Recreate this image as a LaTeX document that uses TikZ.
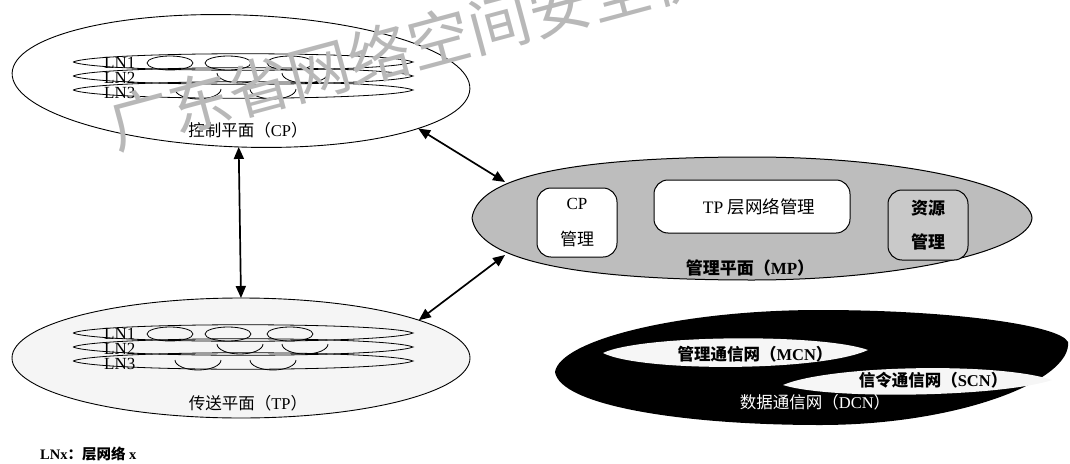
\documentclass[tikz,border=0pt]{standalone}
\usepackage{fontspec}
\setmainfont{Liberation Serif}
\newfontfamily\cjk{Noto Sans CJK SC}
\usetikzlibrary{shapes.geometric,arrows.meta}
\newcommand{\zh}[1]{{\cjk #1}}
\begin{document}
\begin{tikzpicture}[x=1pt,y=-1pt,
  plane/.style={ellipse, draw, line width=0.9pt, inner sep=0pt, outer sep=0pt},
  lnlayer/.style={line width=0.8pt},
  mbox/.style={draw, line width=1pt, rounded corners=14pt, inner sep=0pt, align=center},
  dbl/.style={{Triangle[length=12pt,width=10pt]}-{Triangle[length=12pt,width=10pt]}, line width=1.7pt},
  lab/.style={font=\fontsize{16.5}{18}\selectfont, inner sep=0pt},
  blab/.style={font=\bfseries\fontsize{16.5}{18}\selectfont, inner sep=0pt},
  lnlab/.style={font=\fontsize{17}{17}\selectfont, inner sep=0pt, anchor=base west},
  lens/.style={fill=gray!7},
]
\useasboundingbox (0,0) rectangle (1070,463);

% control and transport planes
\node[plane, fill=white, minimum width=458pt, minimum height=132pt, rotate=-2] (CP) at (241,81) {};
\node[plane, fill=gray!8, minimum width=458pt, minimum height=120pt] (TP) at (241,358) {};

% layer networks
\foreach \off/\pf in {0/cp,271/tp}{
  \begin{scope}[shift={(0,\off)}]
    \foreach \yy in {62,76,90}{
      \draw[lnlayer] (73,\yy) .. controls (100,\yy-11) and (386,\yy-11) .. (413,\yy)
                             .. controls (386,\yy+11) and (100,\yy+11) .. (73,\yy);
    }
    \foreach \cx in {170,228,290}{
      \draw[lnlayer] (\cx,63) ellipse [x radius=23, y radius=7];
    }
    \foreach \cx in {240,305}{
      \draw[lnlayer] (\cx+23,73) arc [start angle=0, end angle=180, x radius=23, y radius=10];
    }
    \foreach \cx in {198,273}{
      \draw[lnlayer] (\cx+23,89) arc [start angle=0, end angle=180, x radius=23, y radius=10];
    }
    \node[lnlab] (\pf ln1) at (104,68) {LN1};
    \node[lnlab] (\pf ln2) at (104,83) {LN2};
    \node[lnlab] (\pf ln3) at (104,98) {LN3};
  \end{scope}
}
\node[lab] (cplab) at (248,130) {\zh{控制平面（}CP\zh{）}};
\node[lab] (tplab) at (248,403) {\zh{传送平面（}TP\zh{）}};

% management plane
\path[fill=gray!52, draw, line width=1pt]
  (472,218) .. controls (477,184) and (540,157) .. (752,157)
  .. controls (900,157) and (1030,185) .. (1032,218)
  .. controls (1030,251) and (900,280) .. (752,280)
  .. controls (540,280) and (477,252) .. (472,218);
\coordinate (mpA) at (505,182);
\coordinate (mpB) at (505,255);

\node[mbox, fill=white, minimum width=80pt, minimum height=69pt,
      font=\fontsize{17}{36}\selectfont] (cpm) at (577,222.5) {CP\\\zh{管理}};
\node[mbox, fill=white, minimum width=196pt, minimum height=53pt,
      font=\fontsize{17.5}{18}\selectfont] (tpm) at (752,206.5) {\hspace*{14pt}TP\ \zh{层网络管理}};
\node[mbox, fill=gray!42, minimum width=80pt, minimum height=70pt,
      font=\bfseries\fontsize{17}{34}\selectfont] (rsm) at (928,225) {\zh{资源}\\\zh{管理}};
\node[blab, font=\bfseries\fontsize{17}{18}\selectfont] (mplab) at (750,268) {\zh{管理平面（}MP\zh{）}};

% arrows
\draw[dbl] (CP.south) -- (TP.north);
\draw[dbl] (CP.-13) -- (mpA);
\draw[dbl] (TP.12) -- (mpB);

% data communication network
\path[fill=black]
  (555,372) .. controls (560,340) and (680,310) .. (820,310)
  .. controls (950,310) and (1060,325) .. (1068,342)
  .. controls (1072,380) and (960,425) .. (820,425)
  .. controls (680,425) and (560,405) .. (555,372);
\path[lens] (603,353) .. controls (640,335) and (820,333) .. (868,350)
  .. controls (820,372) and (640,372) .. (603,353);
\path[lens] (783,385) .. controls (830,365) and (1000,362) .. (1052,380)
  .. controls (1000,397) and (830,400) .. (783,385);
\node[blab] (mcnlab) at (755,354) {\zh{管理通信网（}MCN\zh{）}};
\node[blab] (scnlab) at (933,380) {\zh{信令通信网（}SCN\zh{）}};
\node[lab, text=white] (dcnlab) at (815,402) {\zh{数据通信网（}DCN\zh{）}};

% legend
\node[anchor=base west, font=\bfseries\fontsize{14.5}{14.5}\selectfont, inner sep=0pt] (legend) at (40,459) {LNx\zh{：层网络} x};

% watermark
\node[rotate=15, anchor=base west, text=black!28, font=\cjk\fontsize{62}{62}\selectfont, inner sep=0pt] (wm) at (116,150) {广东省网络空间安全协};
\end{tikzpicture}
\end{document}
